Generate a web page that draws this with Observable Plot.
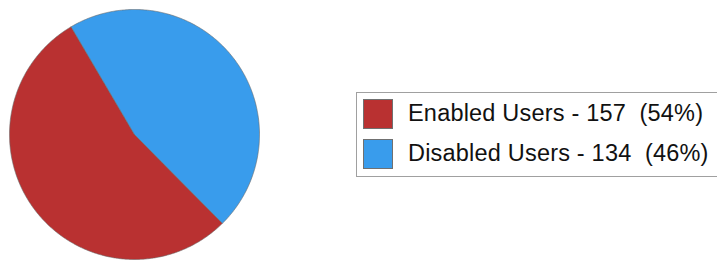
<!DOCTYPE html>
<html>
<head>
<meta charset="utf-8">
<script src="https://cdn.jsdelivr.net/npm/d3@7"></script>
<script src="https://cdn.jsdelivr.net/npm/@observablehq/plot@0.6"></script>
<style>
  html, body { margin: 0; padding: 0; background: #fff; overflow: hidden; }
  #wrap { position: relative; width: 717px; height: 262px; overflow: hidden; }
  #legend { position: absolute; left: 356px; top: 92px; width: 420px; height: 85px;
            border: 1px solid #a0a0a0; box-sizing: border-box; background: #fff;
            font-family: "Liberation Sans", Arial, sans-serif; font-size: 23.5px; letter-spacing: 0.2px; color: #111; }
  .row { position: absolute; left: 6px; display: flex; align-items: center; height: 30px; }
  .sw { width: 30px; height: 30px; box-sizing: border-box; border: 1px solid #707070; margin-right: 15px; flex: none; }
  .row span { position: relative; top: -1px; white-space: pre; }
</style>
</head>
<body>
<div id="wrap"></div>
<script>
const categories = ["Enabled Users", "Disabled Users"];
const values = [157, 134];
const colors = ["#b93131", "#399cec"];

const total = d3.sum(values);
const pie = d3.pie().sort(null).startAngle(135.3 * Math.PI / 180).endAngle((135.3 + 360) * Math.PI / 180)(values);

// polygon outlines of each slice (center + arc), built from the pie angles
const pts = [];
pie.forEach((s, i) => {
  const key = categories[i];
  pts.push({key, x: 0, y: 0});
  const n = Math.max(2, Math.ceil((s.endAngle - s.startAngle) / (Math.PI / 360)));
  for (let k = 0; k <= n; k++) {
    const a = s.startAngle + (s.endAngle - s.startAngle) * k / n;
    pts.push({key, x: Math.sin(a), y: Math.cos(a)});
  }
  pts.push({key, x: 0, y: 0});
});

const chart = Plot.plot({
  width: 717,
  height: 262,
  margin: 0,
  x: {domain: [-1, 1], range: [9, 259], axis: null},
  y: {domain: [-1, 1], range: [259, 9], axis: null},
  color: {domain: categories, range: colors},
  marks: [
    Plot.line(pts, {x: "x", y: "y", z: "key", fill: "key", stroke: "#6a6a6a", strokeWidth: 0.6, curve: "linear"})
  ]
});
const wrap = document.getElementById("wrap");
wrap.appendChild(chart);

const legend = document.createElement("div");
legend.id = "legend";
categories.forEach((c, i) => {
  const row = document.createElement("div");
  row.className = "row";
  row.style.top = (6 + i * 40) + "px";
  const sw = document.createElement("div");
  sw.className = "sw";
  sw.style.background = colors[i];
  const t = document.createElement("span");
  t.textContent = `${c} - ${values[i]}  (${Math.round(values[i] / total * 100)}%)`;
  row.appendChild(sw);
  row.appendChild(t);
  legend.appendChild(row);
});
wrap.appendChild(legend);
</script>
</body>
</html>
